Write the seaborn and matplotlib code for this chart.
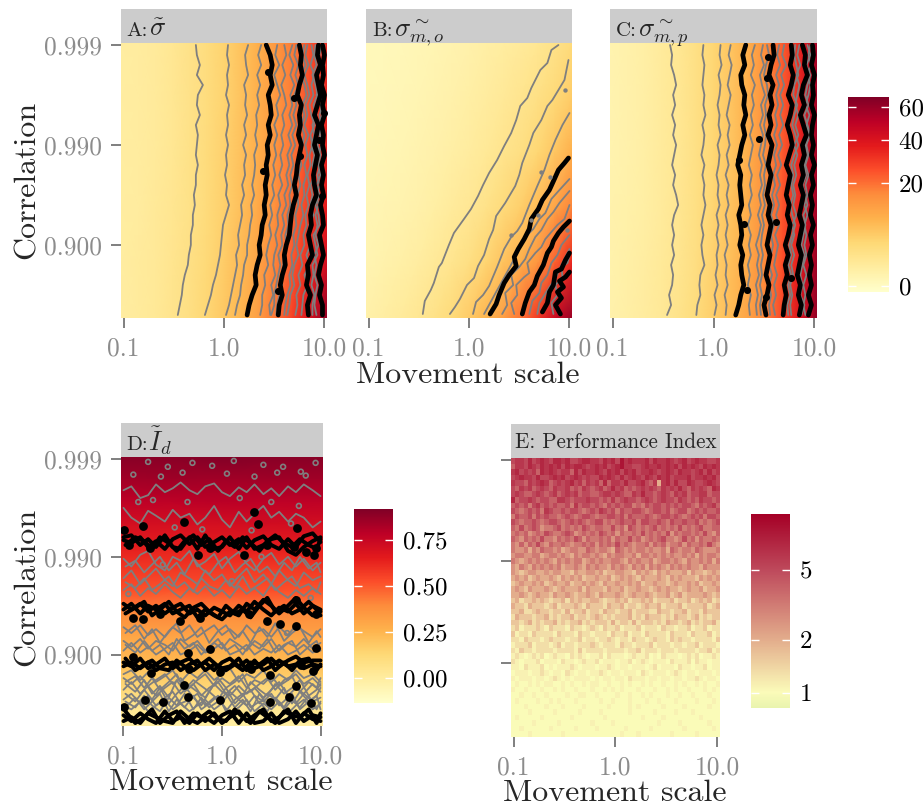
import numpy as np
import seaborn as sns
import matplotlib
matplotlib.use('Agg')
import matplotlib.pyplot as plt
from matplotlib.colors import FuncNorm, LogNorm, Normalize, LinearSegmentedColormap

W, H = 924, 807
GREY = '#7F7F7F'
STRIP = '#CCCCCC'

# x is log10(movement scale), y is -log10(1 - correlation)
XLIM = (-1.025, 1.025)
YLIM = (0.27, 3.02)
X_TICKS = [-1, 0, 1]
X_LABELS = ['0.1', '1.0', '10.0']
Y_TICKS = [3, 2, 1]
Y_LABELS = ['0.999', '0.990', '0.900']

# heatmap values, top row first
A_GRID = [
    [.6, .7, .9, 1.3, 1.9, 2.8, 4, 6, 9, 13, 18, 25, 33],
    [.6, .7, .9, 1.3, 1.9, 2.8, 4, 6, 9, 13, 18, 26, 34],
    [.6, .7, .9, 1.3, 2, 2.9, 4.2, 6.2, 9.3, 14, 19, 27, 35],
    [.6, .7, 1, 1.4, 2, 3, 4.4, 6.5, 10, 15, 21, 29, 37],
    [.6, .8, 1, 1.5, 2.2, 3.2, 4.8, 7.2, 11, 17, 24, 33, 43],
    [.6, .8, 1.1, 1.6, 2.4, 3.6, 5.4, 8, 12, 19, 28, 41, 62],
]
B_GRID = [
    [.02, .03, .05, .08, .13, .2, .3, .45, .65, .9, 1.3, 1.9, 3],
    [.03, .05, .08, .12, .2, .3, .45, .7, 1, 1.5, 2.2, 3.2, 5],
    [.05, .08, .12, .2, .3, .45, .7, 1.1, 1.6, 2.4, 3.6, 5.5, 9],
    [.1, .15, .2, .3, .5, .8, 1.2, 1.9, 3, 4.5, 7, 11, 17],
    [.15, .25, .4, .6, 1, 1.5, 2.4, 3.8, 6, 9, 14, 22, 34],
    [.35, .55, .85, 1.3, 2, 3.1, 5, 8, 12, 19, 30, 45, 60],
]
C_GRID = [
    [.2, .3, .45, .8, 1.3, 2.2, 3.6, 5.8, 9, 15, 23, 34, 58],
    [.2, .3, .45, .8, 1.3, 2.2, 3.6, 5.8, 9, 15, 23, 34, 58],
    [.2, .3, .45, .8, 1.3, 2.2, 3.6, 5.8, 9, 15, 23, 34, 58],
    [.25, .35, .5, .85, 1.4, 2.3, 3.8, 6, 9.5, 15, 24, 35, 58],
    [.25, .4, .6, .95, 1.5, 2.5, 4.2, 6.6, 10, 16, 25, 37, 60],
    [.3, .45, .7, 1.1, 1.8, 2.9, 4.7, 7.2, 11, 17, 27, 40, 62],
]
D_GRID = [
    [.90, .90, .91, .90, .90],
    [.84, .85, .84, .85, .84],
    [.78, .78, .79, .78, .78],
    [.71, .71, .71, .72, .71],
    [.65, .64, .65, .65, .65],
    [.58, .58, .58, .57, .58],
    [.52, .51, .52, .52, .51],
    [.39, .40, .39, .40, .39],
    [.30, .31, .31, .30, .31],
    [.24, .25, .24, .24, .25],
    [.15, .16, .15, .15, .15],
    [.06, .07, .06, .06, .07],
    [-.02, -.01, -.02, -.02, -.01],
]
# panel E cells, one character per cell (index into PERF_LEVELS), spaces only for reading
PERF_CODES = '0123456789ab'
PERF_LEVELS = [1.0, 1.1, 1.3, 1.6, 2.0, 2.5, 3.2, 4.0, 5.0, 6.0, 7.0, 8.5]
E_ROWS = [
    '8998a89a98 aa9a889aa9 98a9a8b9a9 99a8a99a98 9a89a99889',
    '7998a98a9a 9a8a9aa989 a9a89ab998 89a99a9a9a 8a9a98a9a9',
    '9a89897a9a 98997a8a99 a98a9a8a9a 899a989a98 a9989a8a89',
    '89a998a889 a9a89a9898 8a9a98a89a 98a98a9a89 99a899a9a8',
    '9887989a97 8989a89798 97a7998a88 9a87949a8a 88a9889a98',
    '8798978987 9889787987 8978a89787 8989879898 a8798987a9',
    '8987789878 9789897887 7899898779 8a88789879 8978899788',
    'a788987887 7998788898 8787978988 7898789887 9878798878',
    '7878689787 8778697887 8768787886 7687887878 7887687897',
    '8767878698 7787887678 7987868778 8767887867 8867878778',
    '6877868787 7678767887 6778878687 7787678878 7678786887',
    '8767787678 8767878767 8867678778 6887787687 7877867678',
    '7686787566 7867676876 7766867587 6767867676 8676786677',
    '6767567687 6678756767 6876757667 6867676857 6776768657',
    '7657676866 5767687576 6767576686 7567678665 6867576676',
    '6575768657 6676566767 5767686765 6675767566 7576676865',
    '6556465766 5645665576 5665476565 6656556476 5665765556',
    '5665566456 6565465665 6546566556 4665656565 5656465665',
    '6545656565 4656566456 5655665465 6556456656 5465565646',
    '5465465656 5645565465 6554656546 5646565465 6565546555',
    '5434554454 5544354455 4534455443 5454354544 4535443454',
    '4545345445 4354545344 5445345454 3544454354 5444354545',
    '3454454534 5445344545 4354454454 5344544345 4454534454',
    '4543544454 3454445354 4435445344 5443454544 3454453445',
    '4454345443 5445434454 3544454345 4454344534 5344445434',
    '3423343432 3342434334 4323343423 3434233342 3342343423',
    '4332433323 4233343243 3324334233 2343342333 4233334234',
    '3342234332 3324233423 3243323342 3332243323 3423324333',
    '2433323342 3233423323 4323233342 3243332324 3323423233',
    '3323423233 4232334232 3332423324 2333232433 2342323342',
    '2312223213 2221322123 2132231222 3122213221 2231223122',
    '3122132222 1322213221 2221322312 2132222132 2213222312',
    '2213222123 2221223122 1223212213 2212322132 3221222213',
    '1222312221 2312212223 2122213221 2223122212 2122312221',
    '2132212222 1222213122 2212222122 3122212221 2222122312',
    '1210121201 2110212101 1202111012 1120102111 0121201121',
    '2101112011 1021101211 2011101120 1210111021 1120211011',
    '1102111201 0111210111 0112101101 1101201110 2110112011',
    '0111011210 1102101101 1210110111 0210111012 1011011101',
    '1011101101 2101011110 1011011021 1101101101 1011210110',
    '0100101011 0010100101 1001001010 0101001001 0100101001',
    '1001000100 1010010001 0010101000 1000100101 0010001010',
    '0010010010 0001001100 1000010010 0101000100 1001000100',
    '0100001001 0100010000 0100100010 0010010001 0000100010',
    '0001000010 0010000100 0001000010 1000001000 0100000100',
    '0000100000 1000001000 0100000010 0000100001 0001000000',
    '0100000100 0000100000 0010000000 0100001000 0000010000',
    '0000010000 0100000001 0000100000 0000010000 1000000100',
    '0010000001 0000010000 1000000100 0001000000 0100000010',
    '0000100000 0010000000 0000001000 1000000010 0000100000',
]

# contour lines of panels A and C, x position on each of these rows
LINE_ROWS = [3.0, 2.9, 2.8, 2.7, 2.6, 2.5, 2.4, 2.3, 2.2, 2.1, 2.0, 1.9, 1.8, 1.7,
             1.6, 1.5, 1.4, 1.3, 1.2, 1.1, 1.0, 0.9, 0.8, 0.7, 0.6, 0.5, 0.4, 0.3]
A_GREY = [
    [-.28, -.27, -.24, -.27, -.21, -.26, -.27, -.24, -.28, -.26, -.27, -.28, -.26, -.28, -.28, -.30, -.29, -.31, -.31, -.33, -.33, -.35, -.36, -.39, -.41, -.42, -.44, -.46],
    [.04, .03, .05, .03, .04, .02, .05, .03, .04, .02, .04, .02, .03, .01, .03, .02, .05, .02, -.01, -.02, -.03, -.04, -.06, -.08, -.11, -.13, -.16, -.19],
    [.24, .21, .22, .24, .2, .22, .21, .23, .2, .22, .19, .22, .2, .21, .18, .2, .17, .18, .16, .14, .15, .12, .13, .11, .09, .07, .05, .02],
    [.37, .34, .37, .33, .36, .33, .35, .32, .33, .31, .33, .3, .31, .3, .28, .3, .27, .28, .26, .25, .23, .23, .2, .19, .17, .16, .13, .11],
    [.53, .51, .55, .5, .53, .56, .52, .54, .5, .53, .5, .52, .49, .51, .48, .5, .46, .48, .45, .47, .44, .42, .44, .4, .41, .38, .38, .36],
    [.6, .62, .58, .61, .57, .6, .62, .58, .6, .57, .59, .56, .58, .55, .58, .54, .56, .53, .54, .51, .53, .5, .49, .51, .47, .49, .45, .46],
    [.68, .65, .69, .66, .7, .66, .68, .65, .68, .64, .67, .63, .65, .62, .64, .6, .62, .58, .6, .57, .58, .54, .56, .54, .52, .5, .5, .47],
    [.83, .81, .84, .8, .83, .85, .81, .83, .8, .84, .81, .83, .8, .82, .79, .8, .77, .79, .76, .74, .72, .74, .7, .68, .7, .66, .65, .63],
    [.87, .89, .86, .9, .87, .89, .85, .87, .9, .86, .88, .85, .86, .83, .85, .82, .84, .81, .82, .79, .8, .76, .78, .74, .76, .72, .73, .71],
    [.8, .78, .81, .77, .8, .82, .78, .8, .77, .8, .78, .75, .77, .74, .76, .73, .74, .71, .72, .69, .7, .67, .68, .65, .66, .63, .61, .6],
    [1.0, .98, 1.0, .97, .99, .96, .98, .95, .97, .95, .97, .94, .96, .93, .95, .92, .94, .91, .93, .91, .94, .9, .92, .9, .93, .91, .9, .92],
    [.91, .9, .92, .88, .91, .93, .89, .92, .88, .9, .87, .9, .88, .9, .86, .88, .86, .89, .85, .83, .86, .82, .85, .8, .83, .79, .78, .77],
    [.97, .95, .94, 1.0, .96, .92, .96, .98, .94, .97, .93, .96, .94, .96, .92, .95, .91, .94, .95, .89, .91, .93, .88, .89, .87, .9, .88, .88],
    [.72, .7, .74, .71, .74, .7, .72, .69, .72, .68, .71, .67, .69, .66, .68, .65, .66, .63, .64, .61, .62, .59, .59, .57, .58, .55, .53, .52],
]
A_BLACK = [
    [.42, .46, .48, .46, .48, .44, .46, .47, .44, .46, .43, .44, .42, .43, .41, .42, .4, .41, .38, .37, .35, .36, .33, .31, .32, .28, .25, .23],
    [.75, .77, .76, .78, .75, .73, .77, .75, .76, .74, .77, .75, .73, .72, .7, .72, .69, .67, .66, .65, .62, .6, .61, .58, .56, .58, .55, .54],
    [.94, .93, .96, .92, .94, .96, .93, .9, .94, .92, .9, .93, .91, .89, .9, .92, .88, .86, .87, .84, .86, .88, .83, .84, .82, .86, .83, .84],
    [.98, 1.0, .98, .99, .97, 1.0, .98, 1.0, .97, .99, .98, 1.0, .97, .99, .97, .99, .96, .98, .99, .95, .97, .99, .96, .94, .97, .95, .98, .98],
]
A_DOT_X = [.44, .39, .54, .70, .95, .76, 1.0, .98]
A_DOT_Y = [2.73, 1.74, .54, 2.47, 2.05, 1.89, 2.32, 1.49]

C_GREY = [
    [-.43, -.41, -.42, -.39, -.37, -.4, -.38, -.41, -.38, -.4, -.37, -.39, -.41, -.38, -.4, -.37, -.35, -.39, -.41, -.39, -.41, -.39, -.42, -.4, -.41, -.44, -.42, -.46],
    [-.1, -.11, -.09, -.1, -.11, -.09, -.1, -.08, -.11, -.09, -.1, -.12, -.09, -.11, -.09, -.1, -.08, -.1, -.12, -.1, -.12, -.11, -.09, -.13, -.14, -.13, -.16, -.17],
    [.07, .06, .08, .05, .07, .06, .04, .06, .05, .07, .04, .06, .05, .03, .05, .04, .06, .03, .05, .03, .05, .03, .04, .02, .04, .01, .03, .01],
    [.17, .15, .18, .16, .14, .17, .15, .13, .16, .14, .16, .13, .15, .12, .15, .13, .15, .12, .14, .12, .14, .11, .13, .12, .14, .11, .13, .12],
    [.41, .38, .4, .37, .41, .38, .4, .37, .39, .36, .39, .37, .35, .38, .36, .38, .35, .37, .34, .37, .35, .37, .34, .36, .34, .37, .35, .36],
    [.49, .47, .5, .46, .48, .51, .47, .49, .46, .49, .47, .45, .48, .46, .48, .45, .47, .44, .47, .45, .42, .45, .43, .45, .42, .44, .42, .43],
    [.7, .68, .72, .67, .7, .66, .69, .66, .69, .65, .68, .64, .67, .63, .66, .62, .65, .62, .65, .61, .64, .62, .6, .63, .6, .62, .59, .61],
    [.65, .63, .66, .62, .65, .62, .64, .61, .63, .6, .63, .6, .62, .59, .61, .58, .6, .57, .6, .57, .59, .57, .55, .58, .55, .57, .55, .56],
    [.85, .83, .86, .82, .85, .83, .81, .84, .81, .84, .8, .83, .8, .82, .79, .81, .79, .82, .78, .8, .77, .8, .77, .79, .76, .78, .76, .77],
    [.96, .94, .97, .93, .96, .94, .91, .95, .92, .95, .92, .94, .91, .94, .91, .93, .9, .93, .9, .92, .9, .92, .89, .92, .89, .91, .89, .91],
    [.81, .8, .82, .84, .8, .79, .83, .8, .78, .81, .84, .8, .77, .79, .77, .79, .76, .78, .81, .78, .75, .77, .74, .77, .74, .76, .73, .74],
    [.93, .96, .92, .96, .93, .91, .94, .9, .93, .96, .91, .93, .9, .92, .88, .91, .93, .89, .91, .89, .87, .9, .88, .86, .88, .86, .9, .87],
    [.53, .55, .52, .5, .53, .54, .51, .52, .5, .52, .51, .49, .52, .5, .51, .49, .51, .48, .5, .48, .47, .49, .47, .48, .46, .48, .46, .47],
]
C_BLACK = [
    [.32, .29, .31, .27, .28, .31, .3, .32, .29, .31, .28, .26, .24, .27, .26, .27, .28, .25, .27, .28, .26, .29, .27, .28, .3, .27, .25, .22],
    [.59, .6, .57, .55, .59, .56, .58, .55, .57, .54, .58, .56, .54, .57, .55, .53, .56, .54, .57, .55, .53, .56, .54, .52, .55, .53, .5, .52],
    [.77, .78, .76, .79, .77, .74, .78, .76, .73, .76, .78, .75, .72, .76, .74, .72, .75, .73, .76, .74, .71, .74, .71, .73, .7, .72, .7, .69],
    [.88, .91, .9, .93, .89, .87, .9, .86, .89, .92, .88, .9, .87, .89, .86, .89, .87, .85, .88, .86, .84, .87, .85, .83, .86, .84, .87, .85],
    [.98, .99, .97, 1.0, .98, .99, .97, 1.0, .98, .97, .99, .97, 1.0, .97, .99, .96, .98, .96, .99, .96, .98, .95, .97, .95, .97, .94, .97, .94],
]
C_DOT_X = [.54, .53, .25, .33, .3, .62, .45, .77, .52]
C_DOT_Y = [2.88, 2.67, 1.85, .55, 1.21, 1.23, 2.06, .67, .48]

# contour lines of panel B as (x, y) pairs
B_GREY = [
    ([-.46, -.44, -.38, -.35, -.3, -.27, -.2, -.15, -.05, .02, .09, .14, .2, .28, .35, .42, .47, .51, .58, .62, .71, .78, .82, .89],
     [.31, .44, .55, .62, .78, .82, 1.0, 1.12, 1.26, 1.36, 1.49, 1.6, 1.72, 1.85, 1.99, 2.12, 2.25, 2.39, 2.47, 2.57, 2.75, 2.82, 2.95, 3.0]),
    ([-.19, -.14, -.09, -.02, .05, .09, .15, .2, .24, .27, .36, .46, .5, .53, .6, .64, .72, .78, .83, .89, .95, .99],
     [.31, .38, .46, .6, .67, .79, .9, 1.06, 1.15, 1.29, 1.42, 1.59, 1.7, 1.82, 2.0, 2.12, 2.25, 2.39, 2.45, 2.55, 2.65, 2.85]),
    ([.04, .07, .14, .2, .28, .35, .42, .48, .53, .6, .68, .75, .8, .86, .93, 1.0],
     [.31, .43, .5, .59, .78, .96, 1.08, 1.14, 1.22, 1.4, 1.59, 1.75, 1.9, 2.05, 2.2, 2.32]),
    ([.15, .21, .27, .32, .38, .45, .53, .58, .64, .7, .76, .82, .9, 1.0],
     [.31, .42, .53, .62, .73, .86, 1.02, 1.1, 1.16, 1.26, 1.32, 1.46, 1.55, 1.66]),
    ([.33, .38, .36, .44, .42, .5, .56, .6, .66, .72, .78, .84, .9, 1.0],
     [.31, .4, .52, .6, .7, .78, .86, .96, 1.08, 1.15, 1.26, 1.33, 1.42, 1.54]),
    ([.45, .42, .48, .47, .55, .6, .58, .66, .72, .76, .82, .88, .95, 1.0],
     [.31, .42, .5, .6, .68, .72, .82, .92, .98, 1.06, 1.13, 1.2, 1.26, 1.4]),
    ([.6, .63, .7, .72, .78, .82, .88, .92, 1.0],
     [.31, .44, .52, .62, .7, .82, .9, 1.0, 1.1]),
    ([.68, .7, .75, .8, .86, .9, .96, 1.0],
     [.31, .42, .5, .58, .66, .76, .88, .96]),
    ([.84, .82, .88, .86, .93, .92, .98, 1.0],
     [.31, .42, .5, .6, .68, .78, .82, .9]),
]
B_BLACK = [
    ([.21, .27, .3, .35, .4, .47, .45, .49, .55, .6, .62, .69, .73, .8, .85, .89, .95, .99],
     [.31, .41, .5, .62, .7, .79, .88, .96, 1.06, 1.16, 1.26, 1.36, 1.45, 1.55, 1.66, 1.75, 1.82, 1.87]),
    ([.53, .56, .6, .65, .68, .74, .78, .82, .84, .89, .94, 1.0],
     [.31, .42, .53, .6, .69, .8, .92, .98, 1.04, 1.12, 1.18, 1.24]),
    ([.73, .78, .8, .84, .86, .92, .96, 1.0],
     [.33, .42, .53, .6, .73, .76, .85, .92]),
    ([.91, .86, .92, .88, .94, .9, .96, 1.0],
     [.31, .4, .47, .53, .58, .64, .68, .73]),
]
B_DOT_X = [.69, .98, .81, .42, .62, .96, .72]
B_DOT_Y = [1.3, 1.15, 1.68, 1.1, 1.25, 2.55, 1.73]

# contour lines of panel D, y position on each of these x steps
D_X = [-1, -.92, -.83, -.75, -.67, -.58, -.5, -.42, -.33, -.25, -.17, -.08, 0,
       .08, .17, .25, .33, .42, .5, .58, .67, .75, .83, .92, 1]
D_X_SHIFTED = [-.98, -.88, -.79, -.71, -.63, -.54, -.46, -.38, -.29, -.21, -.13, -.04, .04,
               .13, .21, .29, .38, .46, .54, .63, .71, .79, .88, .96, 1]
D_GREY = [
    [2.68, 2.72, 2.60, 2.63, 2.74, 2.66, 2.70, 2.76, 2.68, 2.64, 2.72, 2.75, 2.66, 2.62, 2.71, 2.66, 2.74, 2.64, 2.70, 2.62, 2.72, 2.66, 2.74, 2.68, 2.62],
    [2.50, 2.40, 2.34, 2.47, 2.42, 2.36, 2.48, 2.40, 2.44, 2.33, 2.40, 2.52, 2.38, 2.30, 2.46, 2.36, 2.44, 2.52, 2.40, 2.46, 2.36, 2.44, 2.40, 2.30, 2.36],
    [1.98, 1.90, 2.02, 2.06, 1.92, 1.86, 2.00, 1.96, 2.06, 1.90, 1.95, 2.03, 1.88, 1.98, 2.05, 1.93, 1.86, 1.98, 2.04, 1.92, 2.00, 1.90, 1.98, 1.86, 1.94],
    [1.78, 1.86, 1.72, 1.80, 1.88, 1.76, 1.70, 1.84, 1.78, 1.72, 1.86, 1.76, 1.82, 1.70, 1.80, 1.88, 1.74, 1.82, 1.72, 1.86, 1.76, 1.70, 1.84, 1.76, 1.80],
    [1.66, 1.72, 1.60, 1.68, 1.62, 1.72, 1.64, 1.58, 1.68, 1.62, 1.70, 1.60, 1.66, 1.58, 1.70, 1.62, 1.68, 1.60, 1.72, 1.64, 1.58, 1.66, 1.60, 1.68, 1.62],
    [1.28, 1.22, 1.30, 1.20, 1.26, 1.18, 1.28, 1.22, 1.30, 1.18, 1.24, 1.30, 1.20, 1.26, 1.18, 1.30, 1.22, 1.26, 1.18, 1.28, 1.20, 1.30, 1.24, 1.18, 1.26],
    [1.14, 1.08, 1.16, 1.06, 1.14, 1.10, 1.04, 1.16, 1.08, 1.14, 1.04, 1.12, 1.06, 1.16, 1.10, 1.04, 1.14, 1.08, 1.16, 1.04, 1.12, 1.08, 1.16, 1.06, 1.12],
    [1.04, 1.12, 1.02, 1.08, 1.00, 1.06, 1.12, 1.00, 1.04, 1.10, 1.02, 1.06, 1.12, 1.00, 1.04, 1.10, 1.00, 1.06, 1.02, 1.10, 1.00, 1.04, 1.10, 1.02, 1.06],
    [.76, .70, .78, .68, .74, .80, .70, .76, .66, .74, .80, .68, .76, .70, .78, .66, .74, .70, .78, .68, .74, .80, .70, .76, .68],
    [.64, .72, .60, .68, .58, .66, .72, .60, .68, .62, .56, .70, .62, .58, .68, .60, .66, .56, .64, .72, .58, .66, .60, .70, .62],
    [.54, .60, .50, .58, .48, .56, .62, .50, .54, .60, .48, .56, .50, .62, .54, .48, .58, .52, .60, .48, .56, .50, .60, .52, .56],
    [.48, .44, .52, .42, .48, .54, .44, .50, .42, .48, .54, .44, .50, .40, .46, .54, .42, .50, .44, .52, .40, .48, .54, .44, .50],
    [.80, .84, .74, .82, .72, .78, .84, .72, .82, .76, .84, .74, .80, .86, .72, .80, .76, .84, .72, .80, .74, .84, .76, .80, .72],
]
D_GREY_SHIFTED = [
    [1.90, 1.96, 1.84, 1.92, 2.00, 1.86, 1.94, 1.82, 1.98, 1.88, 1.82, 1.94, 2.00, 1.84, 1.92, 1.98, 1.84, 1.90, 1.80, 1.94, 1.86, 2.00, 1.88, 1.94, 1.84],
    [1.74, 1.68, 1.78, 1.66, 1.72, 1.80, 1.68, 1.74, 1.64, 1.78, 1.70, 1.66, 1.76, 1.68, 1.80, 1.66, 1.72, 1.78, 1.66, 1.74, 1.80, 1.68, 1.72, 1.64, 1.74],
    [1.22, 1.30, 1.16, 1.26, 1.12, 1.24, 1.32, 1.14, 1.20, 1.28, 1.12, 1.24, 1.30, 1.16, 1.24, 1.12, 1.28, 1.18, 1.32, 1.14, 1.22, 1.28, 1.12, 1.24, 1.18],
    [1.10, 1.02, 1.14, 1.04, 1.10, 1.00, 1.16, 1.06, 1.12, 1.00, 1.08, 1.16, 1.04, 1.10, 1.00, 1.12, 1.06, 1.16, 1.02, 1.10, 1.14, 1.00, 1.08, 1.14, 1.04],
    [.72, .78, .66, .76, .64, .72, .80, .64, .74, .68, .62, .76, .66, .72, .80, .62, .70, .76, .64, .74, .78, .62, .72, .66, .76],
    [.60, .52, .64, .54, .66, .50, .60, .68, .56, .48, .62, .54, .66, .50, .58, .64, .50, .60, .54, .66, .50, .62, .52, .58, .66],
    [.46, .56, .44, .52, .60, .42, .54, .46, .58, .44, .50, .58, .42, .54, .60, .46, .52, .42, .56, .46, .60, .44, .52, .58, .44],
    [.70, .62, .74, .60, .68, .56, .74, .62, .70, .58, .66, .72, .60, .68, .58, .72, .64, .58, .70, .60, .66, .74, .58, .64, .70],
    [.52, .46, .58, .48, .42, .56, .48, .60, .44, .56, .46, .52, .60, .46, .54, .42, .60, .48, .56, .44, .54, .46, .58, .44, .52],
]
D_BLACK = [
    [2.17, 2.14, 2.20, 2.10, 2.16, 2.08, 2.18, 2.22, 2.13, 2.20, 2.10, 2.15, 2.20, 2.12, 2.18, 2.09, 2.17, 2.21, 2.12, 2.08, 2.18, 2.10, 2.21, 2.24, 2.15],
    [2.20, 2.22, 2.12, 2.18, 2.10, 2.22, 2.10, 2.08, 2.20, 2.08, 2.22, 2.08, 2.10, 2.20, 2.08, 2.20, 2.08, 2.12, 2.18, 2.20, 2.06, 2.02, 2.10, 2.16, 2.20],
    [1.52, 1.46, 1.52, 1.44, 1.50, 1.42, 1.48, 1.52, 1.42, 1.46, 1.40, 1.48, 1.44, 1.40, 1.50, 1.44, 1.54, 1.46, 1.40, 1.48, 1.44, 1.52, 1.42, 1.50, 1.46],
    [1.46, 1.52, 1.42, 1.50, 1.46, 1.52, 1.42, 1.46, 1.50, 1.38, 1.46, 1.40, 1.36, 1.44, 1.40, 1.52, 1.46, 1.56, 1.50, 1.42, 1.50, 1.58, 1.48, 1.40, 1.44],
    [.92, .88, .96, .86, .90, .96, .86, .92, .96, .88, .92, .84, .92, .96, .88, .94, .86, .90, .96, .88, .94, .98, .92, .94, .94],
    [.88, .92, .86, .92, .84, .90, .92, .84, .90, .94, .84, .90, .86, .88, .96, .84, .94, .84, .88, .94, .88, .90, .86, .90, .88],
    [.38, .32, .40, .34, .30, .42, .32, .36, .30, .40, .32, .40, .30, .36, .42, .32, .38, .44, .32, .36, .44, .30, .40, .34, .32],
    [.32, .36, .30, .40, .36, .32, .30, .42, .34, .30, .36, .30, .38, .42, .30, .40, .30, .32, .40, .30, .34, .42, .32, .38, .36],
]
D_BLACK_SHIFTED = [
    [2.12, 2.20, 2.16, 2.08, 2.20, 2.14, 2.06, 2.16, 2.22, 2.12, 2.18, 2.06, 2.16, 2.10, 2.20, 2.14, 2.06, 2.16, 2.22, 2.14, 2.10, 2.18, 2.12, 2.08, 2.18],
    [1.42, 1.48, 1.54, 1.40, 1.46, 1.54, 1.44, 1.38, 1.48, 1.52, 1.44, 1.38, 1.50, 1.42, 1.46, 1.38, 1.50, 1.58, 1.44, 1.50, 1.42, 1.46, 1.54, 1.46, 1.40],
    [.96, .84, .90, .94, .86, .84, .94, .88, .84, .90, .96, .88, .84, .90, .84, .92, .90, .96, .84, .92, .84, .94, .96, .84, .90],
    [.42, .30, .36, .44, .30, .38, .42, .30, .40, .36, .42, .34, .32, .44, .36, .30, .42, .36, .30, .42, .38, .36, .44, .30, .40],
]
D_DOT_X = [.32, .37, -.94, -.73, -.24, -.12, .22, .46, .73, .85, .93, .95, -.99, -.80, -.39, .76,
           -.90, -.80, -.63, -.43, -.22, .27, .46, .59, .75, .95, .75, -.90, -.34, -.12, .95, .29,
           -.02, .49, .80, .92, -.33, -.72, -.39, .75, -.78, -.60, -.34, -.02, .49, .90, -.99, .68]
D_DOT_Y = [2.46, 2.34, 2.12, 2.09, 2.02, 2.09, 2.02, 2.12, 2.10, 2.05, 2.02, 2.09, 2.27, 2.31, 2.36, 2.29,
           1.37, 1.36, 1.41, 1.34, 1.37, 1.41, 1.34, 1.31, 1.29, 1.41, 1.56, .98, 1.02, 1.06, 1.07, .85,
           .82, .79, .89, .83, .85, .81, .69, .68, .54, .52, .57, .54, .52, .51, .46, .57]
# small closed contours of panel D
D_LOOP_X = [-.75, -.55, -.3, -.1, .12, .42, .62, .8, .95, -.9, -.62, -.4, .05, .33, .56, .85,
            -.7, -.35, .18, .5, .78, -.85, -.48, .3, .7, -.2, .1, -.95, .9, -.6, .4, .66]
D_LOOP_Y = [2.97, 2.92, 2.96, 2.93, 2.98, 2.94, 2.92, 2.87, 2.96, 2.84, 2.82, 2.86, 2.85, 2.82, 2.86, 2.83,
            2.58, 2.56, 2.60, 2.56, 2.52, 2.56, 2.3, 2.27, 2.34, 2.28, 1.75, 1.62, 1.58, 1.92, 2.0, 1.22]

SIGMA_TICKS = [0, 20, 40, 60]
SIGMA_LABELS = ['0', '20', '40', '60']
INDEX_TICKS = [0, .25, .5, .75]
INDEX_LABELS = ['0.00', '0.25', '0.50', '0.75']
PERF_TICKS = [1, 2, 5]
PERF_LABELS = ['1', '2', '5']
PERF_COLORS = [(0, '#E9F4AE'), (.08, '#FBFBB9'), (.35, '#E3AD8C'), (.71, '#BE4A5C'), (1, '#A50026')]

sns.set_style('white')
plt.rcParams['font.family'] = ['cmr10', 'DejaVu Sans']
plt.rcParams['mathtext.fontset'] = 'cm'
plt.rcParams['axes.formatter.use_mathtext'] = True
plt.rcParams['axes.unicode_minus'] = False


def rect(x0, y0, x1, y1):
    return [x0 / W, 1 - y1 / H, (x1 - x0) / W, (y1 - y0) / H]


def signed_sqrt(v):
    v = np.asarray(v, dtype=float)
    return np.sign(v) * np.sqrt(np.abs(v))


def signed_square(v):
    v = np.asarray(v, dtype=float)
    return np.sign(v) * v * v


def decode_rows(rows):
    return [[PERF_LEVELS[PERF_CODES.index(c)] for c in row.replace(' ', '')] for row in rows]


def draw_lines(ax, lines, color, width):
    for xs, ys in lines:
        sns.lineplot(x=xs, y=ys, sort=False, estimator=None, color=color, linewidth=width, ax=ax)


def draw_panel(fig, box, strip_top, grid, cmap, norm, cax=None, ticks=None, labels=None, shading='gouraud'):
    x0, y0, x1, y1 = box
    base = fig.add_axes(rect(x0, y0, x1, y1))
    kws = {'shading': 'gouraud'} if shading == 'gouraud' else {}
    sns.heatmap(np.array(grid), ax=base, cmap=cmap, norm=norm, cbar=cax is not None, cbar_ax=cax,
                xticklabels=False, yticklabels=False, **kws)
    if shading == 'gouraud':
        base.set_xlim(0, len(grid[0]) - 1)
        base.set_ylim(len(grid) - 1, 0)
    if cax is not None:
        cb = base.collections[0].colorbar
        cb.set_ticks(ticks, labels=labels)
        cb.minorticks_off()
        cb.ax.set_axisbelow(False)
        cb.ax.tick_params(direction='in', length=6, width=1, color='white', left=True, right=True,
                          labelleft=False, labelright=True, labelsize=18, labelcolor='black', pad=7)

    over = fig.add_axes(rect(x0, y0, x1, y1), zorder=3)
    over.patch.set_alpha(0)
    over.set_xlim(XLIM)
    over.set_ylim(YLIM)
    sns.despine(ax=over, left=True, bottom=True)
    over.set_xticks(X_TICKS, X_LABELS)
    over.set_yticks(Y_TICKS, Y_LABELS)
    over.tick_params(length=7.5, width=1.4, color=GREY, labelcolor='#8C8C8C', labelsize=18.3, pad=6,
                     left=True, bottom=True)

    strip = fig.add_axes(rect(x0, strip_top, x1, y0))
    strip.set_facecolor(STRIP)
    strip.set_xticks([])
    strip.set_yticks([])
    sns.despine(ax=strip, left=True, bottom=True)
    return over, strip


def strip_title(strip, letter, math):
    strip.text(0.028, 0.2, letter, fontsize=15, transform=strip.transAxes, va='baseline')
    strip.text(0.135, 0.2, math, fontsize=19, transform=strip.transAxes, va='baseline')


fig = plt.figure(figsize=(W / 100, H / 100), dpi=100)

sigma_norm = FuncNorm((signed_sqrt, signed_square), vmin=-.07, vmax=67)
index_norm = Normalize(vmin=-.136, vmax=.918)
perf_norm = LogNorm(vmin=.82, vmax=10.4)
perf_cmap = LinearSegmentedColormap.from_list('perf', PERF_COLORS)

sigma_cax = fig.add_axes(rect(848, 97, 889, 292))
over_a, strip_a = draw_panel(fig, (121, 43, 327, 318), 9, A_GRID, 'YlOrRd', sigma_norm)
over_b, strip_b = draw_panel(fig, (366, 43, 572, 318), 9, B_GRID, 'YlOrRd', sigma_norm)
over_c, strip_c = draw_panel(fig, (610, 43, 817, 318), 9, C_GRID, 'YlOrRd', sigma_norm,
                             cax=sigma_cax, ticks=SIGMA_TICKS, labels=SIGMA_LABELS)

index_cax = fig.add_axes(rect(354, 509, 393, 703))
over_d, strip_d = draw_panel(fig, (121, 457, 323, 726), 423, D_GRID, 'YlOrRd', index_norm,
                             cax=index_cax, ticks=INDEX_TICKS, labels=INDEX_LABELS)

perf_cax = fig.add_axes(rect(751, 514, 790, 708))
E_GRID = decode_rows(E_ROWS)
over_e, strip_e = draw_panel(fig, (511, 458, 720, 737), 424, E_GRID, perf_cmap, perf_norm,
                             cax=perf_cax, ticks=PERF_TICKS, labels=PERF_LABELS, shading='flat')

draw_lines(over_a, [(xs, LINE_ROWS) for xs in A_GREY], GREY, 1.3)
draw_lines(over_a, [(xs, LINE_ROWS) for xs in A_BLACK], 'black', 3.4)
sns.scatterplot(x=A_DOT_X, y=A_DOT_Y, color='black', s=26, linewidth=0, zorder=4, ax=over_a)

draw_lines(over_b, B_GREY, GREY, 1.3)
draw_lines(over_b, B_BLACK, 'black', 3.4)
sns.scatterplot(x=B_DOT_X, y=B_DOT_Y, color=GREY, s=10, linewidth=0, zorder=4, ax=over_b)

draw_lines(over_c, [(xs, LINE_ROWS) for xs in C_GREY], GREY, 1.3)
draw_lines(over_c, [(xs, LINE_ROWS) for xs in C_BLACK], 'black', 3.4)
sns.scatterplot(x=C_DOT_X, y=C_DOT_Y, color='black', s=26, linewidth=0, zorder=4, ax=over_c)

draw_lines(over_d, [(D_X, ys) for ys in D_GREY], GREY, 1.3)
draw_lines(over_d, [(D_X_SHIFTED, ys) for ys in D_GREY_SHIFTED], GREY, 1.3)
sns.scatterplot(x=D_LOOP_X, y=D_LOOP_Y, facecolor='none', edgecolor=GREY, s=12, linewidth=1.2, ax=over_d)
draw_lines(over_d, [(D_X, ys) for ys in D_BLACK], 'black', 2.8)
draw_lines(over_d, [(D_X_SHIFTED, ys) for ys in D_BLACK_SHIFTED], 'black', 2.8)
sns.scatterplot(x=D_DOT_X, y=D_DOT_Y, color='black', s=40, linewidth=0, zorder=4, ax=over_d)

over_b.tick_params(left=False, labelleft=False)
over_c.tick_params(left=False, labelleft=False)
over_e.tick_params(labelleft=False)

strip_title(strip_a, 'A:', r'$\tilde{\sigma}$')
strip_title(strip_b, 'B:', r'$\sigma^{\sim}_{m,o}$')
strip_title(strip_c, 'C:', r'$\sigma^{\sim}_{m,p}$')
strip_title(strip_d, 'D:', r'$\tilde{I}_d$')
strip_e.text(0.02, 0.3, 'E: Performance Index', fontsize=15.2, transform=strip_e.transAxes, va='baseline')

fig.text(468 / W, 1 - 375 / H, 'Movement scale', fontsize=23, ha='center', va='center')
fig.text(221 / W, 1 - 782 / H, 'Movement scale', fontsize=23, ha='center', va='center')
fig.text(615 / W, 1 - 793 / H, 'Movement scale', fontsize=23, ha='center', va='center')
fig.text(27 / W, 1 - 180 / H, 'Correlation', fontsize=23, rotation=90, ha='center', va='center')
fig.text(27 / W, 1 - 587 / H, 'Correlation', fontsize=23, rotation=90, ha='center', va='center')

fig.savefig('out.png', dpi=100)
